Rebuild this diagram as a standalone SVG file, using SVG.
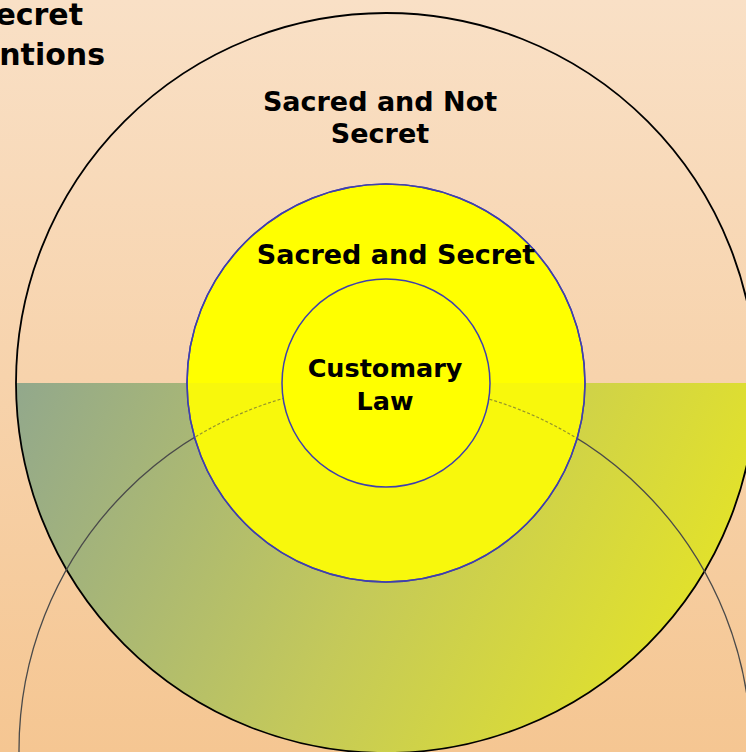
<svg xmlns="http://www.w3.org/2000/svg" width="746" height="752" viewBox="0 0 746 752">
<defs>
<linearGradient id="bg" x1="0" y1="0" x2="0" y2="1">
<stop offset="0" stop-color="#f9e0c6"/>
<stop offset="1" stop-color="#f5c692"/>
</linearGradient>
<linearGradient id="low" gradientUnits="userSpaceOnUse" x1="16" y1="383" x2="740" y2="720">
<stop offset="0" stop-color="#92a88c"/>
<stop offset="0.5" stop-color="#c4c95a"/>
<stop offset="1" stop-color="#eae81e"/>
</linearGradient>
<clipPath id="bigLower">
<circle cx="386" cy="383" r="370"/>
</clipPath>
<clipPath id="yellowLower">
<rect x="0" y="383" width="746" height="400"/>
</clipPath>
<clipPath id="yellowRing">
<circle cx="386" cy="383" r="199"/>
</clipPath>
<style>
.t{font-family:"DejaVu Sans",Verdana,sans-serif;font-weight:bold;fill:#000;text-anchor:middle}
.ring{fill:#ffff00;stroke:#3f3fae;stroke-width:1.5}
</style>
</defs>
<rect width="746" height="752" fill="url(#bg)"/>
<g id="lower-fill">
<rect x="0" y="383" width="746" height="380" fill="url(#lower)" clip-path="url(#bigLower)" style="fill:url(#low)"/>
</g>
<g id="connectors">
<circle id="outer" cx="386" cy="383" r="370" fill="none" stroke="#000" stroke-width="1.8"/>
<circle id="second" cx="385" cy="750" r="366" fill="none" stroke="#4a4a4a" stroke-width="1.3"/>
</g>
<g id="sacred-secret">
<circle class="ring" cx="386" cy="383" r="199"/>
<rect x="180" y="383" width="420" height="210" fill="#d8d840" opacity="0.18" clip-path="url(#yellowRing)"/>
<g clip-path="url(#yellowRing)">
<circle cx="385" cy="750" r="366" fill="none" stroke="#6a6a3a" stroke-width="1.2" stroke-dasharray="3 2" opacity="0.7"/>
</g>
<circle cx="386" cy="383" r="199" fill="none" stroke="#3f3fae" stroke-width="1.5"/>
<text class="t" x="396" y="264" font-size="27">Sacred and Secret</text>
</g>
<g id="customary-law">
<circle class="ring" cx="386" cy="383" r="104"/>
<text class="t" x="385" y="377" font-size="25.5">Customary</text>
<text class="t" x="385" y="410" font-size="25.5">Law</text>
</g>
<g id="sacred-not-secret">
<text class="t" x="380" y="111" font-size="27">Sacred and Not</text>
<text class="t" x="380" y="143" font-size="27">Secret</text>
</g>
<g id="cut-label">
<text class="t" x="83" y="25" font-size="30" style="text-anchor:end">ecret</text>
<text class="t" x="105" y="65" font-size="30" style="text-anchor:end">ntions</text>
</g>
</svg>
